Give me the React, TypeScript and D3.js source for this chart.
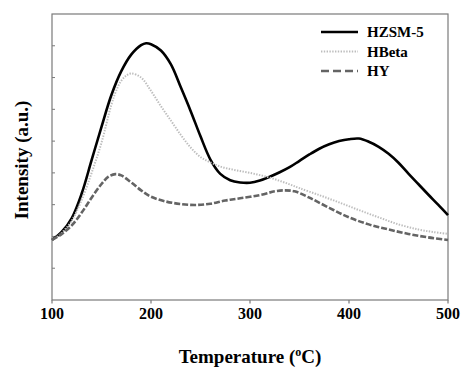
import React from "react";
import * as d3 from "d3";

const hzsmT = [100, 110, 120, 130, 140, 150, 160, 170, 180, 190, 195, 200, 210, 220, 230, 240, 250, 260, 270, 280, 290, 300, 310, 320, 330, 340, 350, 360, 370, 380, 390, 400, 410, 420, 430, 440, 450, 460, 470, 480, 490, 500];
const hzsmV = [1.89, 2.15, 2.58, 3.35, 4.4, 5.45, 6.45, 7.2, 7.72, 8.02, 8.08, 8.05, 7.85, 7.42, 6.7, 5.95, 5.15, 4.42, 3.97, 3.77, 3.7, 3.69, 3.76, 3.88, 4.02, 4.18, 4.38, 4.58, 4.76, 4.9, 5.0, 5.06, 5.08, 4.98, 4.82, 4.6, 4.32, 3.98, 3.65, 3.32, 3.0, 2.67];

const hbetaT = [100, 110, 120, 130, 140, 150, 160, 165, 170, 175, 180, 190, 200, 210, 220, 230, 240, 250, 260, 270, 280, 290, 300, 310, 320, 330, 340, 350, 370, 390, 410, 430, 450, 470, 485, 500];
const hbetaV = [1.89, 2.12, 2.5, 3.15, 4.0, 4.95, 6.15, 6.6, 6.9, 7.06, 7.13, 7.0, 6.58, 6.1, 5.65, 5.2, 4.8, 4.5, 4.33, 4.2, 4.12, 4.06, 4.0, 3.93, 3.85, 3.75, 3.64, 3.52, 3.3, 3.07, 2.83, 2.6, 2.38, 2.22, 2.14, 2.08];

const hyT = [100, 110, 120, 130, 140, 150, 157, 164, 170, 180, 190, 200, 215, 230, 245, 260, 275, 290, 310, 325, 335, 345, 360, 380, 400, 420, 440, 460, 480, 500];
const hyV = [1.89, 2.08, 2.35, 2.75, 3.22, 3.65, 3.88, 3.96, 3.92, 3.7, 3.45, 3.25, 3.1, 3.02, 2.99, 3.03, 3.13, 3.2, 3.3, 3.42, 3.45, 3.42, 3.22, 2.9, 2.6, 2.38, 2.22, 2.08, 1.97, 1.89];

const xTicks = [100, 200, 300, 400, 500];
const yTicks = [1, 2, 3, 4, 5, 6, 7, 8];
const seriesNames = ["HZSM-5", "HBeta", "HY"];

const W = 462, H = 367;
const L = 52, R = 448, T = 14, B = 300;

export default function App() {
  const x = d3.scaleLinear().domain([100, 500]).range([L, R]);
  const y = d3.scaleLinear().domain([0, 9]).range([B, T]);
  const line = d3
    .line<[number, number]>()
    .x((d) => x(d[0]))
    .y((d) => y(d[1]))
    .curve(d3.curveCatmullRom.alpha(0.5));
  const zip = (a: number[], b: number[]) => a.map((t, i) => [t, b[i]] as [number, number]);

  const styles = [
    { stroke: "#000", width: 2.6, dash: undefined as string | undefined },
    { stroke: "#bdbdbd", width: 2, dash: "1.4 1.4" },
    { stroke: "#646464", width: 2.6, dash: "6 2" },
  ];
  const data = [zip(hzsmT, hzsmV), zip(hbetaT, hbetaV), zip(hyT, hyV)];
  const font = "'Liberation Serif', 'Times New Roman', serif";
  const axisColor = "#7a7a7a";

  return (
    <svg width={W} height={H} style={{ position: "absolute", left: 0, top: 0, background: "#fff" }}>
      <rect x={L} y={T} width={R - L} height={B - T} fill="none" stroke={axisColor} strokeWidth={1.2} />
      {yTicks.map((t) => (
        <line key={t} x1={L} x2={L + 3} y1={y(t)} y2={y(t)} stroke={axisColor} strokeWidth={1} />
      ))}
      {xTicks.map((t) => (
        <g key={t}>
          <line x1={x(t)} x2={x(t)} y1={B} y2={B + 3.5} stroke={axisColor} strokeWidth={1.2} />
          <text x={x(t)} y={319} textAnchor="middle" fontFamily={font} fontWeight="bold" fontSize={16}>
            {t}
          </text>
        </g>
      ))}
      {data.map((d, i) => (
        <path
          key={i}
          d={line(d) || ""}
          fill="none"
          stroke={styles[i].stroke}
          strokeWidth={styles[i].width}
          strokeDasharray={styles[i].dash}
        />
      ))}
      {seriesNames.map((n, i) => (
        <g key={n}>
          <line
            x1={321}
            x2={358}
            y1={32 + i * 19.5}
            y2={32 + i * 19.5}
            stroke={styles[i].stroke}
            strokeWidth={styles[i].width}
            strokeDasharray={i === 2 ? "8 4" : styles[i].dash}
          />
          <text x={367} y={32 + i * 19.5 + 5} fontFamily={font} fontWeight="bold" fontSize={15}>
            {n}
          </text>
        </g>
      ))}
      <text x={250} y={363} textAnchor="middle" fontFamily={font} fontWeight="bold" fontSize={19}>
        Temperature (<tspan dy={-7} fontSize={12}>o</tspan>
        <tspan dy={7}>C)</tspan>
      </text>
      <text
        transform={`translate(28,160) rotate(-90)`}
        textAnchor="middle"
        fontFamily={font}
        fontWeight="bold"
        fontSize={19}
      >
        Intensity (a.u.)
      </text>
    </svg>
  );
}
